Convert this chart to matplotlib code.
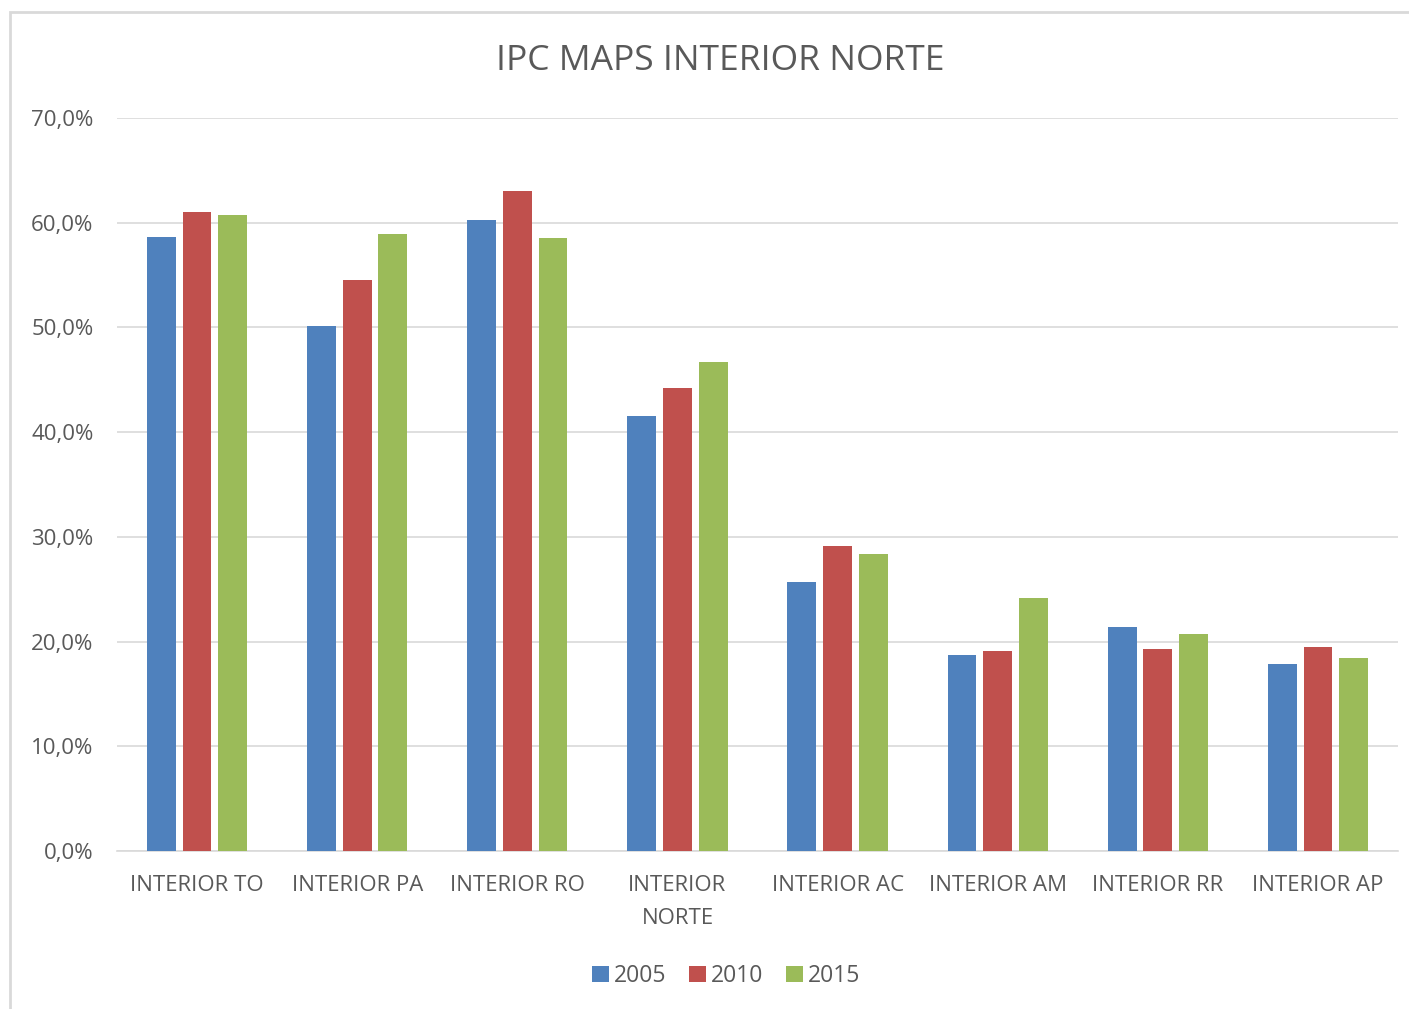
import matplotlib
matplotlib.use("Agg")
import matplotlib.pyplot as plt
import numpy as np
from matplotlib.ticker import FuncFormatter
from matplotlib.patches import Rectangle

categories = ["INTERIOR TO", "INTERIOR PA", "INTERIOR RO", "INTERIOR\nNORTE",
              "INTERIOR AC", "INTERIOR AM", "INTERIOR RR", "INTERIOR AP"]
years = ["2005", "2010", "2015"]
v2005 = [58.6, 50.1, 60.3, 41.5, 25.7, 18.7, 21.4, 17.9]
v2010 = [61.0, 54.5, 63.0, 44.2, 29.1, 19.1, 19.3, 19.5]
v2015 = [60.7, 58.9, 58.5, 46.7, 28.4, 24.2, 20.7, 18.4]
colors = ["#4F81BD", "#C0504D", "#9BBB59"]

plt.rcParams['font.family'] = ['Open Sans', 'DejaVu Sans']
txt = "#595959"

fig = plt.figure(figsize=(14.09, 10.09), dpi=100)
# chart frame
fig.patches.append(Rectangle((10/1409, -0.01), 1.1, 1 - 12/1009 + 0.01,
                             transform=fig.transFigure, fill=False,
                             edgecolor="#D9D9D9", linewidth=2))
ax = fig.add_axes([117/1409, 1 - 851/1009, (1398 - 117)/1409, (851 - 118)/1009])

x = np.arange(len(categories))
pitch = 0.223
width = 0.18
for i, (vals, c, y) in enumerate(zip([v2005, v2010, v2015], colors, years)):
    ax.bar(x + (i - 1) * pitch, vals, width=width, color=c, label=y, zorder=3)

ax.set_xlim(-0.5, len(categories) - 0.5)
ax.set_ylim(0, 70)
ax.set_yticks(np.arange(0, 71, 10))
ax.yaxis.set_major_formatter(FuncFormatter(lambda v, p: f"{v:.1f}%".replace(".", ",")))
ax.grid(axis="y", color="#D9D9D9", linewidth=1.2, zorder=0)
for s in ["top", "right", "left"]:
    ax.spines[s].set_visible(False)
ax.spines["bottom"].set_color("#D9D9D9")
ax.spines["bottom"].set_linewidth(1.2)
ax.tick_params(axis="both", length=0, labelsize=16, colors=txt)
ax.tick_params(axis="y", pad=17)
ax.tick_params(axis="x", pad=17)
ax.set_xticks(x)
ax.set_xticklabels(categories, linespacing=1.75)

fig.text(720/1409, 1 - 61/1009, "IPC MAPS INTERIOR NORTE", ha="center", va="center",
         fontsize=25.5, color=txt)

leg = ax.legend(loc="center", bbox_to_anchor=(726/1409, 1 - 976/1009),
                bbox_transform=fig.transFigure, ncol=3, frameon=False,
                fontsize=16.5, handlelength=0.75, handleheight=0.75,
                handletextpad=0.2, columnspacing=1.0)
for t in leg.get_texts():
    t.set_color(txt)

fig.savefig("out.png", dpi=100, facecolor="white")
